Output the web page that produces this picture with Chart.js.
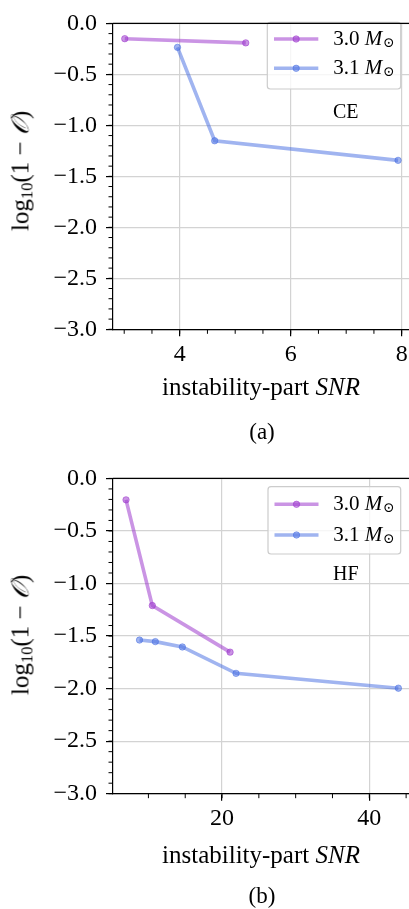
<!DOCTYPE html>
<html>
<head>
<meta charset="utf-8">
<script src="https://cdn.jsdelivr.net/npm/chart.js@4.4.0/dist/chart.umd.min.js"></script>
<style>
html, body { margin:0; padding:0; background:#fff; }
#wrap { position:relative; width:409px; height:909px; overflow:hidden;
        font-family:"Liberation Serif", serif; color:#000; }
canvas { position:absolute; left:0; }
.lbl  { position:absolute; white-space:nowrap; transform:translate(-50%,-50%); }
.ylab { position:absolute; white-space:nowrap; transform:translate(-50%,-50%) rotate(-90deg); font-size:25px; }
.ylab sub { font-size:0.66em; vertical-align:-0.25em; }
</style>
</head>
<body>
<div id="wrap">
  <canvas id="ceChart" width="425" height="455" style="top:0"></canvas>
  <canvas id="hfChart" width="425" height="454" style="top:455px"></canvas>

  <div class="ylab" style="left:22px;top:171px">log<sub>10</sub>(1 − <i>𝒪</i>)</div>
  <div class="lbl" style="left:261px;top:387px;font-size:25px">instability-part <i>SNR</i></div>
  <div class="lbl" style="left:262px;top:432px;font-size:23px">(a)</div>

  <div class="ylab" style="left:22px;top:635px">log<sub>10</sub>(1 − <i>𝒪</i>)</div>
  <div class="lbl" style="left:261px;top:855px;font-size:25px">instability-part <i>SNR</i></div>
  <div class="lbl" style="left:262px;top:896px;font-size:23px">(b)</div>
</div>

<script>
// data ----------------------------------------------------------
const seriesLabels = ["3.0", "3.1"];

// (a) CE
const ceSnr30 = [3.01, 5.19];
const ceLog30 = [-0.150, -0.191];
const ceSnr31 = [3.96, 4.63, 7.935];
const ceLog31 = [-0.235, -1.151, -1.343];

// (b) HF
const hfSnr30 = [6.96, 10.53, 21.09];
const hfLog30 = [-0.204, -1.21, -1.653];
const hfSnr31 = [8.79, 10.94, 14.61, 21.9, 43.95];
const hfLog31 = [-1.538, -1.553, -1.604, -1.855, -1.996];

// ticks
const yMajor  = [-3.0, -2.5, -2.0, -1.5, -1.0, -0.5, 0.0];
const ceXMajor = [4, 6, 8];
const hfXMajor = [20, 40];

// styles --------------------------------------------------------
const purple = "rgba(153,50,204,0.52)";
const blue   = "rgba(65,105,225,0.5)";
const FONT   = '"Liberation Serif", serif';

function pts(xs, ys) { return xs.map((x, i) => ({ x: x, y: ys[i] })); }

function range(a, b, step) {
  const out = [];
  for (let v = a; v <= b + 1e-9; v += step) out.push(Math.round(v * 1000) / 1000);
  return out;
}

// minor ticks + top/right spines
const framePlugin = {
  id: "frame",
  afterDraw(chart, args, opts) {
    const ctx = chart.ctx;
    const a = chart.chartArea;
    const xs = chart.scales.x, ys = chart.scales.y;
    ctx.save();
    ctx.strokeStyle = "#000";
    ctx.lineWidth = 1.2;
    ctx.beginPath();
    ctx.moveTo(a.left, a.top); ctx.lineTo(a.right, a.top); ctx.lineTo(a.right, a.bottom);
    ctx.stroke();
    ctx.lineWidth = 1;
    ctx.beginPath();
    opts.xMinor.forEach(v => {
      const p = xs.getPixelForValue(v);
      if (p < a.left - 0.5 || p > a.right + 0.5) return;
      ctx.moveTo(p, a.bottom); ctx.lineTo(p, a.bottom + 4.5);
    });
    opts.yMinor.forEach(v => {
      const p = ys.getPixelForValue(v);
      ctx.moveTo(a.left, p); ctx.lineTo(a.left - 4.5, p);
    });
    ctx.stroke();
    ctx.restore();
  }
};

// matplotlib-like legend box + panel tag
const legendPlugin = {
  id: "mplLegend",
  afterDatasetsDraw(chart, args, o) {
    const ctx = chart.ctx;
    ctx.save();
    ctx.fillStyle = "rgba(255,255,255,0.8)";
    ctx.strokeStyle = "#cccccc";
    ctx.lineWidth = 1.2;
    ctx.beginPath();
    ctx.roundRect(o.box[0], o.box[1], o.box[2], o.box[3], 3);
    ctx.fill(); ctx.stroke();

    chart.data.datasets.forEach((ds, i) => {
      const y = o.rows[i];
      ctx.strokeStyle = ds.borderColor;
      ctx.lineWidth = 3.6;
      ctx.beginPath();
      ctx.moveTo(o.lineX[0], y); ctx.lineTo(o.lineX[1], y);
      ctx.stroke();
      ctx.fillStyle = ds.borderColor;
      ctx.beginPath();
      ctx.arc((o.lineX[0] + o.lineX[1]) / 2, y, 3.2, 0, Math.PI * 2);
      ctx.fill();
      ctx.lineWidth = 1;
      ctx.stroke();

      ctx.fillStyle = "#000";
      ctx.textBaseline = "middle";
      let x = o.textX;
      ctx.font = "21px " + FONT;
      const t = ds.label + " ";
      ctx.fillText(t, x, y);
      x += ctx.measureText(t).width;
      ctx.font = "italic 21px " + FONT;
      ctx.fillText("M", x, y);
      x += ctx.measureText("M").width + 0.5;
      ctx.font = '14px "DejaVu Serif", serif';
      ctx.fillText("⊙", x, y + 4);
    });

    ctx.fillStyle = "#000";
    ctx.font = "20px " + FONT;
    ctx.textBaseline = "middle";
    ctx.fillText(o.tag, o.tagPos[0], o.tagPos[1]);
    ctx.restore();
  }
};

function makeChart(id, cfg) {
  const axisFont = { family: FONT, size: 24 };
  return new Chart(document.getElementById(id), {
    type: "line",
    data: {
      datasets: [
        { label: seriesLabels[0], data: cfg.d30, borderColor: purple, backgroundColor: purple,
          pointBackgroundColor: purple, pointBorderColor: purple },
        { label: seriesLabels[1], data: cfg.d31, borderColor: blue, backgroundColor: blue,
          pointBackgroundColor: blue, pointBorderColor: blue }
      ]
    },
    options: {
      responsive: false,
      animation: false,
      events: [],
      layout: { padding: { top: cfg.padTop, right: 13, left: 0, bottom: 0 } },
      elements: {
        line: { borderWidth: 3.6, tension: 0 },
        point: { radius: 3.2, borderWidth: 1 }
      },
      scales: {
        x: {
          type: "linear",
          min: cfg.xMin, max: cfg.xMax,
          afterFit: s => { s.height = cfg.xAxisH; },
          afterBuildTicks: s => { s.ticks = cfg.xMajor.map(v => ({ value: v })); },
          ticks: { font: axisFont, color: "#000", padding: 4, maxRotation: 0, autoSkip: false,
                   callback: v => String(v) },
          grid: { color: "#d3d3d3", lineWidth: 1.2, tickColor: "#000", tickLength: 7, tickWidth: 1.2 },
          border: { color: "#000", width: 1.2 }
        },
        y: {
          min: -3, max: 0,
          afterFit: s => { s.width = 113; },
          afterBuildTicks: s => { s.ticks = yMajor.map(v => ({ value: v })); },
          ticks: { font: axisFont, color: "#000", padding: 9,
                   callback: v => (v === 0 ? "0.0" : "\u2212" + Math.abs(v).toFixed(1)) },
          grid: { color: "#d3d3d3", lineWidth: 1.2, tickColor: "#000", tickLength: 7, tickWidth: 1.2 },
          border: { color: "#000", width: 1.2 }
        }
      },
      plugins: {
        legend: { display: false },
        tooltip: { enabled: false },
        frame: { xMinor: cfg.xMinor, yMinor: range(-3, 0, 0.1) },
        mplLegend: cfg.legend
      }
    },
    plugins: [framePlugin, legendPlugin]
  });
}

makeChart("ceChart", {
  d30: pts(ceSnr30, ceLog30),
  d31: pts(ceSnr31, ceLog31),
  xMin: 2.798, xMax: 8.186, xMajor: ceXMajor, xMinor: range(3, 8, 0.5),
  padTop: 12.5, xAxisH: 455 - 329.3,
  legend: { box: [267.3, 22.3, 133.4, 66.7], rows: [39, 68.3], lineX: [274, 318.3],
            textX: 333.3, tag: "CE", tagPos: [333, 112.7] }
});

makeChart("hfChart", {
  d30: pts(hfSnr30, hfLog30),
  d31: pts(hfSnr31, hfLog31),
  xMin: 5.19, xMax: 45.8, xMajor: hfXMajor, xMinor: range(10, 45, 5),
  padTop: 20.7, xAxisH: 454 - 338.7,
  legend: { box: [268, 31.7, 132.7, 67.3], rows: [49.3, 80], lineX: [274.5, 318.5],
            textX: 333.3, tag: "HF", tagPos: [333, 120] }
});
</script>
</body>
</html>
